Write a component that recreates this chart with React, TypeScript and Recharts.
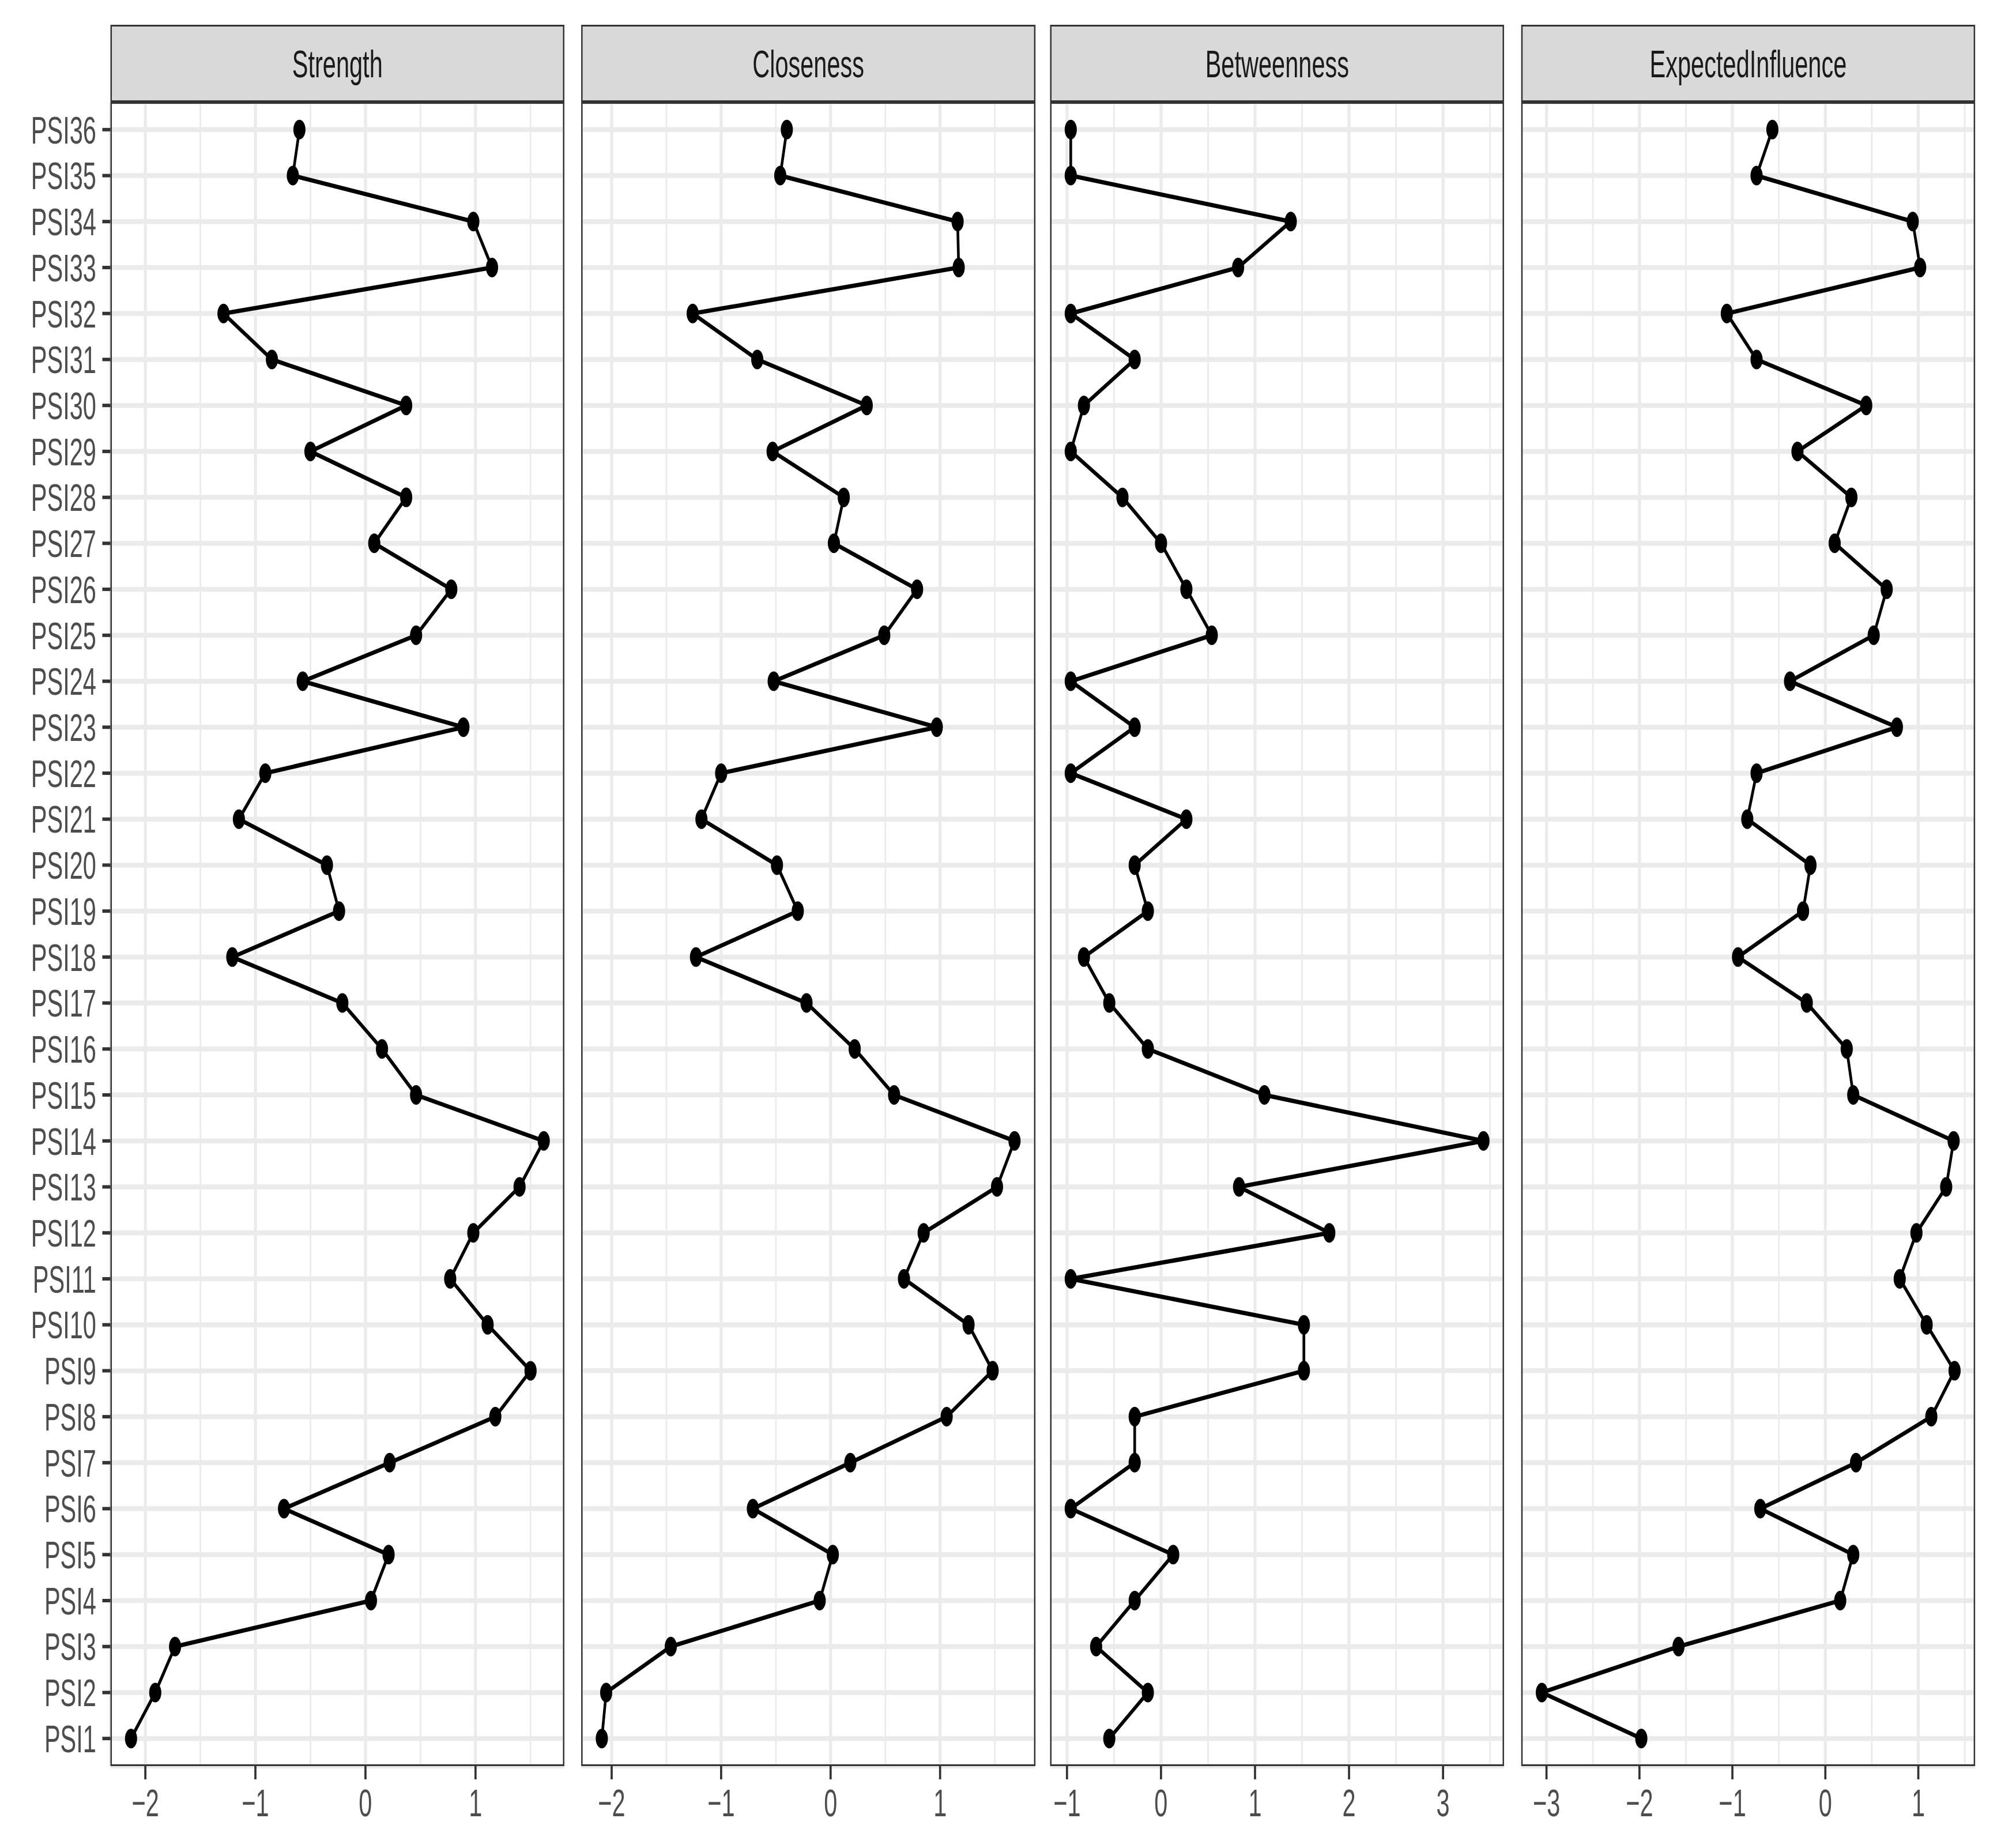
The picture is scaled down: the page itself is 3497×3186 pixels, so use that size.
import { CartesianGrid, Line, LineChart, ReferenceLine, XAxis, YAxis } from "recharts";

const nodes = [
  "PSI1", "PSI2", "PSI3", "PSI4", "PSI5", "PSI6", "PSI7", "PSI8", "PSI9", "PSI10",
  "PSI11", "PSI12", "PSI13", "PSI14", "PSI15", "PSI16", "PSI17", "PSI18", "PSI19", "PSI20",
  "PSI21", "PSI22", "PSI23", "PSI24", "PSI25", "PSI26", "PSI27", "PSI28", "PSI29", "PSI30",
  "PSI31", "PSI32", "PSI33", "PSI34", "PSI35", "PSI36",
];

const strength = [
  -2.13, -1.91, -1.73, 0.05, 0.21, -0.74, 0.22, 1.18, 1.5, 1.11,
  0.77, 0.98, 1.4, 1.62, 0.46, 0.15, -0.21, -1.21, -0.24, -0.35,
  -1.15, -0.91, 0.89, -0.57, 0.46, 0.78, 0.08, 0.37, -0.5, 0.37,
  -0.85, -1.29, 1.15, 0.98, -0.66, -0.6,
];

const closeness = [
  -2.09, -2.05, -1.46, -0.1, 0.02, -0.71, 0.18, 1.06, 1.48, 1.26,
  0.67, 0.85, 1.52, 1.68, 0.58, 0.22, -0.22, -1.23, -0.3, -0.49,
  -1.18, -1.0, 0.97, -0.52, 0.49, 0.79, 0.03, 0.12, -0.53, 0.33,
  -0.67, -1.26, 1.17, 1.16, -0.46, -0.4,
];

const betweenness = [
  -0.55, -0.14, -0.69, -0.28, 0.13, -0.96, -0.28, -0.28, 1.52, 1.52,
  -0.96, 1.79, 0.83, 3.43, 1.1, -0.14, -0.55, -0.82, -0.14, -0.28,
  0.27, -0.96, -0.28, -0.96, 0.54, 0.27, 0.0, -0.41, -0.96, -0.82,
  -0.28, -0.96, 0.82, 1.38, -0.96, -0.96,
];

const expectedInfluence = [
  -1.98, -3.05, -1.58, 0.16, 0.3, -0.7, 0.33, 1.14, 1.39, 1.09,
  0.8, 0.98, 1.3, 1.38, 0.3, 0.23, -0.2, -0.94, -0.24, -0.16,
  -0.84, -0.74, 0.77, -0.38, 0.52, 0.66, 0.1, 0.28, -0.3, 0.44,
  -0.74, -1.06, 1.02, 0.94, -0.74, -0.57,
];

const measures = ["Strength", "Closeness", "Betweenness", "ExpectedInfluence"];
const seriesValues = [strength, closeness, betweenness, expectedInfluence];
const majorTicks = [
  [-2, -1, 0, 1],
  [-2, -1, 0, 1],
  [-1, 0, 1, 2, 3],
  [-3, -2, -1, 0, 1],
];
const minorTicks = [
  [-1.5, -0.5, 0.5, 1.5],
  [-1.5, -0.5, 0.5, 1.5],
  [-0.5, 0.5, 1.5, 2.5, 3.5],
  [-2.5, -1.5, -0.5, 0.5, 1.5],
];

// the picture is squeezed horizontally, so draw wide and compress
const K = 0.62;
const W = 3497;
const H = 3186;
const stripTop = 43;
const plotTop = 177;
const plotH = 2886;
const axisH = 130;
const catPad = (plotH / 36.2) * 0.6; // ggplot discrete expansion of 0.6
const panelLefts = [191.5, 1008.4, 1821.6, 2638.7];
const panelW = 787.5;
const font = "'Liberation Sans', Arial, Helvetica, sans-serif";

const fmt = (v: number) => String(v).replace("-", "\u2212");

function Panel({ i }: { i: number }) {
  const vals = seriesValues[i];
  const rows = nodes.map((node, j) => ({ node, value: vals[j] }));
  const lo = Math.min(...vals);
  const hi = Math.max(...vals);
  const pad = (hi - lo) * 0.05;
  const first = i === 0;
  const yW = first ? panelLefts[0] / K : 0;
  const left = first ? 0 : panelLefts[i] / K;
  const pw = panelW / K;
  return (
    <div style={{ position: "absolute", left, top: plotTop }}>
      <LineChart
        layout="vertical"
        width={pw + yW}
        height={plotH + axisH}
        data={rows}
        margin={{ top: 0, right: 0, bottom: 0, left: 0 }}
      >
        <CartesianGrid stroke="#EBEBEB" strokeWidth={8.5} fill="#FFFFFF" />
        {minorTicks[i].map((m) => (
          <ReferenceLine key={m} x={m} stroke="#EBEBEB" strokeWidth={4.5} />
        ))}
        <XAxis
          type="number"
          dataKey="value"
          domain={[lo - pad, hi + pad]}
          ticks={majorTicks[i]}
          interval={0}
          allowDataOverflow
          height={axisH}
          axisLine={false}
          tickSize={23}
          tickMargin={16}
          tickLine={{ stroke: "#333333", strokeWidth: 6 }}
          tick={{ fill: "#4D4D4D", fontSize: 67, fontFamily: font }}
          tickFormatter={fmt}
        />
        <YAxis
          type="category"
          dataKey="node"
          reversed
          interval={0}
          hide={!first}
          width={yW}
          padding={{ top: catPad, bottom: catPad }}
          axisLine={false}
          tickSize={22.6}
          tickMargin={17}
          tickLine={{ stroke: "#333333", strokeWidth: 6 }}
          tick={{ fill: "#4D4D4D", fontSize: 67, fontFamily: font }}
        />
        <Line
          dataKey="value"
          stroke="#000000"
          strokeWidth={7.5}
          dot={{ r: 17, fill: "#000000", stroke: "#000000", strokeWidth: 0 }}
          isAnimationActive={false}
        />
      </LineChart>
    </div>
  );
}

export default function App() {
  return (
    <div
      style={{
        position: "absolute",
        left: 0,
        top: 0,
        width: W,
        height: H,
        overflow: "hidden",
        background: "#FFFFFF",
        fontFamily: font,
      }}
    >
      <div
        style={{
          position: "absolute",
          left: 0,
          top: 0,
          width: W / K,
          height: H,
          transform: `scaleX(${K})`,
          transformOrigin: "0 0",
        }}
      >
        {measures.map((m, i) => (
          <Panel key={m} i={i} />
        ))}
        {measures.map((m, i) => (
          <div
            key={"s" + m}
            style={{
              position: "absolute",
              left: panelLefts[i] / K,
              top: stripTop,
              width: panelW / K,
              height: plotTop - stripTop,
              boxSizing: "border-box",
              background: "#D9D9D9",
              borderStyle: "solid",
              borderColor: "#333333",
              borderWidth: "3.5px 4.5px",
              color: "#1A1A1A",
              fontSize: 67,
              display: "flex",
              alignItems: "center",
              justifyContent: "center",
            }}
          >
            {m}
          </div>
        ))}
        {measures.map((m, i) => (
          <div
            key={"b" + m}
            style={{
              position: "absolute",
              left: panelLefts[i] / K,
              top: plotTop,
              width: panelW / K,
              height: plotH,
              boxSizing: "border-box",
              borderStyle: "solid",
              borderColor: "#333333",
              borderWidth: "3.5px 4.5px",
              pointerEvents: "none",
            }}
          />
        ))}
      </div>
    </div>
  );
}
